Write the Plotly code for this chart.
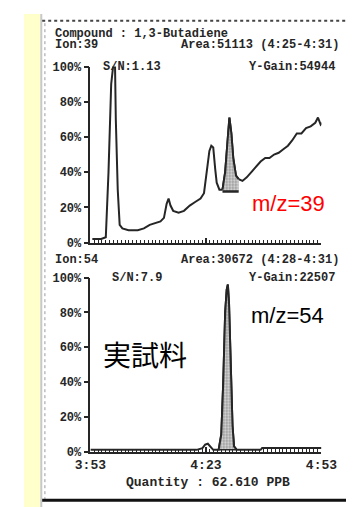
import plotly.graph_objects as go

# ---------------- data (time in seconds, intensity in %) ----------------
t39 = [233.5, 235.8, 237.0, 237.7, 238.4, 238.9, 239.4, 239.6, 240.1, 240.6, 241.3,
       242.9, 245.3, 246.9, 248.4, 250.0, 251.2, 252.1, 252.8, 253.3, 253.8, 254.5,
       255.9, 257.3, 258.8, 260.2, 261.6, 262.5, 263.2, 263.9, 264.4, 264.9, 265.4,
       265.8, 266.5, 267.3, 268.0, 268.7, 269.1, 269.6, 270.1, 270.8, 271.5, 272.5,
       273.6, 274.8, 276.0, 277.2, 278.4, 279.5, 280.7, 281.9, 283.1, 284.3, 285.4,
       286.6, 287.8, 289.0, 290.2, 291.4, 292.1, 292.8, 293.2]
v39 = [2, 2, 3, 40, 90, 100, 100, 70, 30, 10, 8,
       7, 7, 8, 10, 11, 12, 14, 22, 25, 21, 18,
       17, 18, 21, 23, 25, 28, 40, 52, 55, 54, 42,
       34, 30, 30, 40, 60, 71, 62, 48, 38, 36, 35,
       37, 40, 43, 46, 48, 48, 50, 51, 53, 55, 58,
       62, 62, 65, 66, 68, 71, 67, 68]

peak39_t = [267.3, 268.0, 268.7, 269.1, 269.6, 270.1, 270.8, 271.5]
peak39_v = [30, 40, 60, 71, 62, 48, 38, 36]
base39_v = [29, 29, 29, 29, 29, 29, 29, 29]

t54 = [233.0, 245.0, 260.6, 262.1, 262.8, 263.5, 264.2, 264.9, 266.3, 267.0, 267.5,
       268.0, 268.4, 268.7, 269.0, 269.4, 269.9, 270.3, 271.0, 277.2, 277.6, 293.0]
v54 = [1, 1, 1, 2, 4, 4.5, 3, 1, 1, 10, 40,
       80, 93, 96, 85, 50, 15, 3, 1, 1, 2, 2]

peak54_t = [266.3, 267.0, 267.5, 268.0, 268.4, 268.7, 269.0, 269.4, 269.9, 270.3, 271.0]
peak54_v = [1, 10, 40, 80, 93, 96, 85, 50, 15, 3, 1]
base54_v = [1, 1, 1, 1, 1, 1, 1, 1, 1, 1, 1]

x_ticks = [233, 263, 293]
x_labels = ["3:53", "4:23", "4:53"]
y_ticks = [0, 20, 40, 60, 80, 100]
y_labels = ["0%", "20%", "40%", "60%", "80%", "100%"]

# ---------------- layout helpers ----------------
W, H = 354, 507
def px(x):
    return x / W
def py(y):
    return 1 - y / H

INK = "#262626"
MONO = dict(family="Liberation Mono", size=12, color=INK, weight="bold")
MONO_L = dict(family="Liberation Mono", size=13, color=INK, weight="bold")
pattern = dict(shape=".", fgcolor="#333333", bgcolor="#e0e0e0", size=3, solidity=0.45)

fig = go.Figure()

# top chart (m/z=39)
fig.add_trace(go.Scatter(x=t39, y=v39, mode="lines", line=dict(color=INK, width=2),
                         xaxis="x", yaxis="y", showlegend=False))
fig.add_trace(go.Scatter(x=peak39_t, y=base39_v, mode="lines", line=dict(color=INK, width=2.5),
                         xaxis="x", yaxis="y", showlegend=False))
fig.add_trace(go.Scatter(x=peak39_t, y=peak39_v, mode="lines", line=dict(color=INK, width=2),
                         fill="tonexty", fillpattern=pattern, fillcolor="#e0e0e0",
                         xaxis="x", yaxis="y", showlegend=False))

# bottom chart (m/z=54)
fig.add_trace(go.Scatter(x=t54, y=v54, mode="lines", line=dict(color=INK, width=2),
                         xaxis="x2", yaxis="y2", showlegend=False))
fig.add_trace(go.Scatter(x=peak54_t, y=base54_v, mode="lines", line=dict(color=INK, width=1.5),
                         xaxis="x2", yaxis="y2", showlegend=False))
fig.add_trace(go.Scatter(x=peak54_t, y=peak54_v, mode="lines", line=dict(color=INK, width=2),
                         fill="tonexty", fillpattern=pattern, fillcolor="#e0e0e0",
                         xaxis="x2", yaxis="y2", showlegend=False))

xdom = [px(73), px(327)]
xcommon = dict(range=[233, 293], domain=xdom, showgrid=False, zeroline=False,
               showline=True, linecolor=INK, linewidth=2,
               tickvals=x_ticks, ticktext=x_labels, ticks="inside", ticklen=5,
               tickwidth=1.5, tickcolor=INK, tickfont=MONO_L,
               minor=dict(ticks="inside", dtick=1, ticklen=3, tickwidth=1, tickcolor=INK))
ycommon = dict(range=[0, 100], showgrid=False, zeroline=False,
               showline=True, linecolor=INK, linewidth=1.5,
               tickvals=y_ticks, ticktext=y_labels, ticks="outside", ticklen=5,
               tickwidth=2, tickcolor=INK, tickfont=MONO)

fig.update_layout(
    width=W, height=H,
    margin=dict(l=0, r=0, t=0, b=0),
    paper_bgcolor="white", plot_bgcolor="white",
    xaxis=dict(xcommon, anchor="y", showticklabels=False),
    yaxis=dict(ycommon, domain=[py(235), py(54)], anchor="x"),
    xaxis2=dict(xcommon, anchor="y2", showticklabels=True),
    yaxis2=dict(ycommon, domain=[py(450), py(271)], anchor="x2"),
)

# frame decorations
shapes = [
    dict(type="rect", xref="paper", yref="paper", x0=0, x1=px(18), y0=0, y1=1,
         fillcolor="#FFFFCC", line=dict(width=0), layer="below"),
    dict(type="line", xref="paper", yref="paper", x0=px(19), x1=px(19), y0=0, y1=1,
         line=dict(color="#c8c8c8", width=2)),
    dict(type="line", xref="paper", yref="paper", x0=px(23), x1=px(23), y0=py(500), y1=py(8),
         line=dict(color="#9a9a9a", width=1, dash="dot")),
    dict(type="line", xref="paper", yref="paper", x0=px(20), x1=1, y0=py(7), y1=py(7),
         line=dict(color="#444444", width=2, dash="dot")),
    dict(type="line", xref="paper", yref="paper", x0=px(20), x1=1, y0=py(500), y1=py(500),
         line=dict(color="#111111", width=3)),
]
fig.update_layout(shapes=shapes)

def txt(s, x, y, anchor="left", font=MONO):
    fig.add_annotation(text=s, x=px(x), y=py(y), xref="paper", yref="paper",
                       xanchor=anchor, yanchor="middle", showarrow=False, font=font,
                       borderpad=0)

txt("Compound : 1,3-Butadiene", 33, 20.5)
txt("Ion:39", 33, 32)
txt("Area:51113 (4:25-4:31)", 347, 32, "right")
txt("S/N:1.13", 86, 54)
txt("Y-Gain:54944", 343, 54, "right")

txt("Ion:54", 33, 253)
txt("Area:30672 (4:28-4:31)", 347, 253, "right")
txt("S/N:7.9", 96, 271)
txt("Y-Gain:22507", 343, 271, "right")

txt("Quantity : 62.610 PPB", 202, 482, "center", MONO_L)

txt("m/z=39", 250, 195, font=dict(family="Liberation Sans", size=22, color="#FF0000"))
txt("m/z=54", 248, 310, font=dict(family="Liberation Sans", size=22, color="#000000"))
txt("実試料", 86, 350, font=dict(family="Noto Sans CJK JP", size=28, color="#000000"))

fig.write_html("out.html")
